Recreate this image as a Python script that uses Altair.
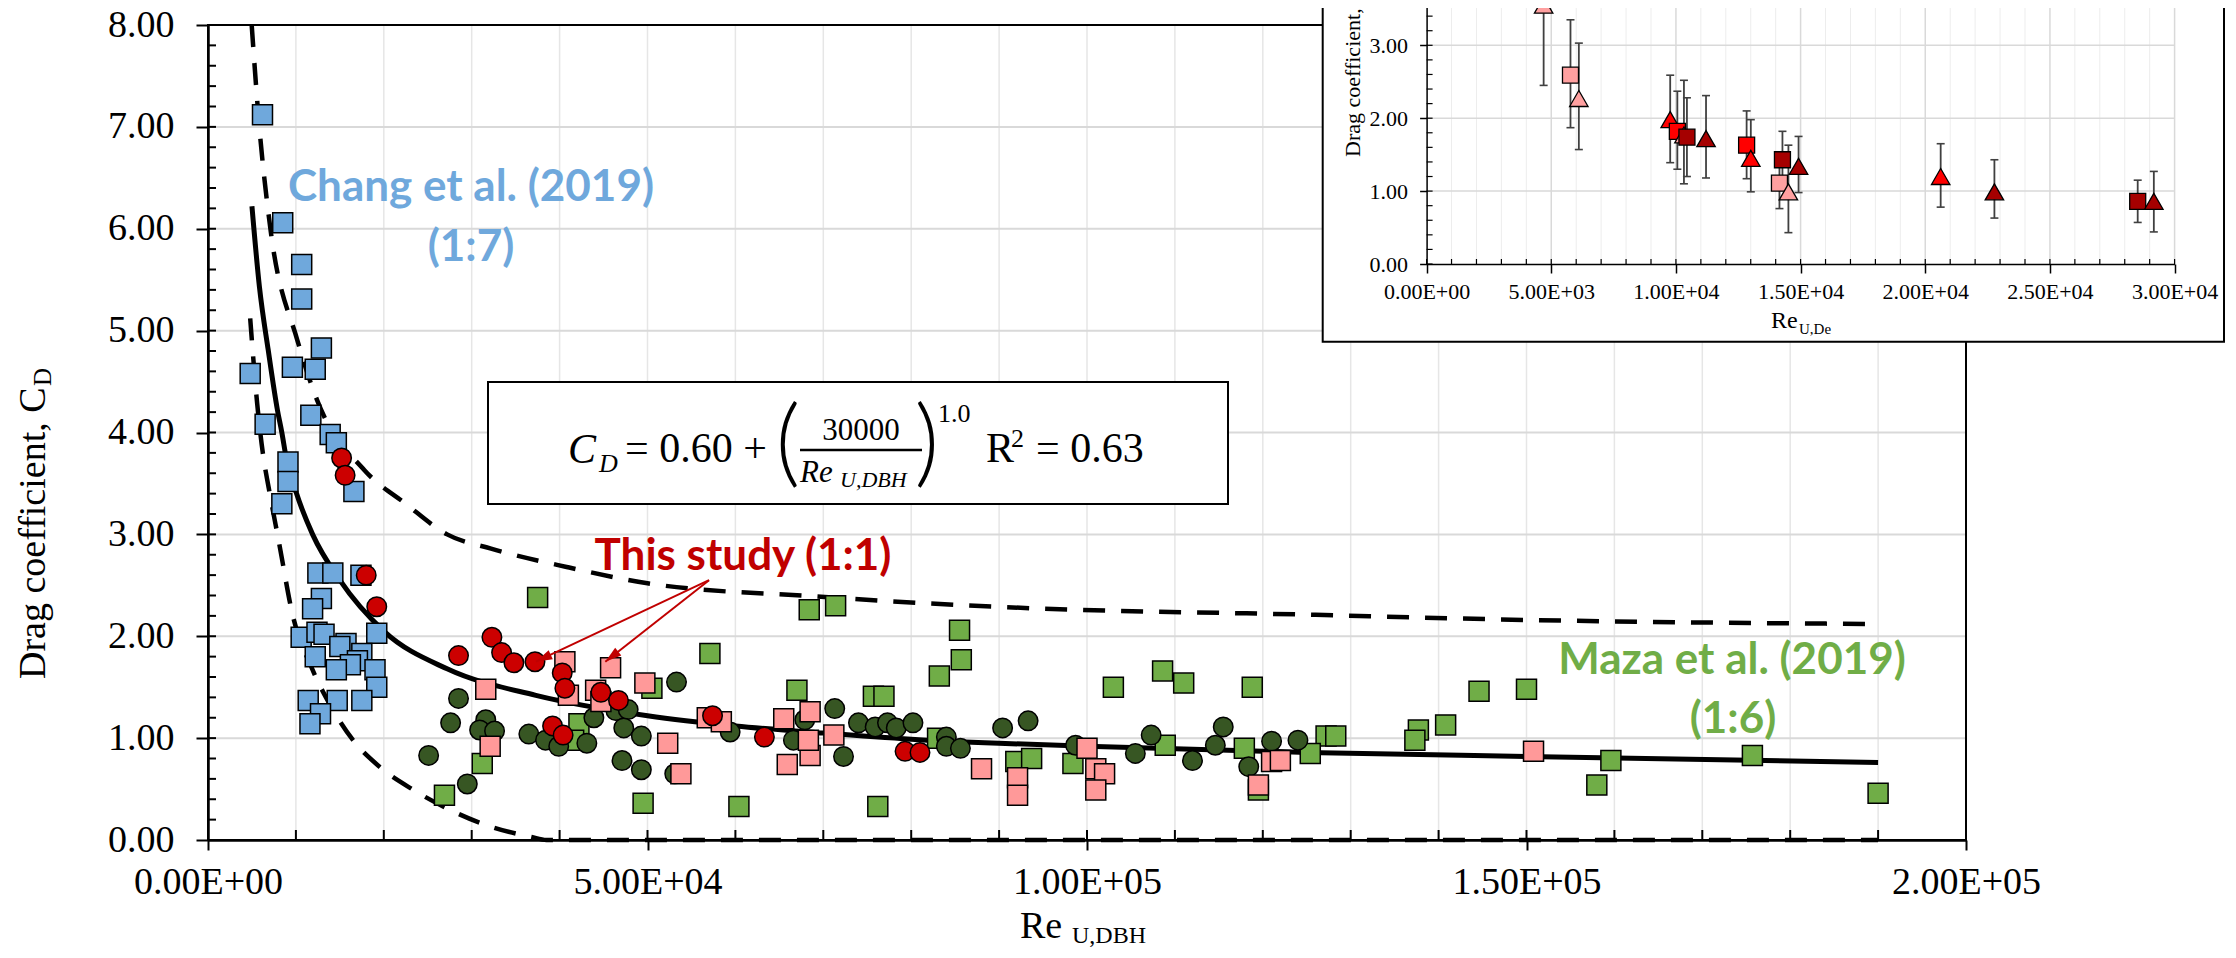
import math
import altair as alt
import pandas as pd

# ---------------- values ----------------
# Chang et al. (2019), 1:7  (blue squares)
chang_re = [6200, 8500, 10660, 10660, 12900, 4800, 9600, 12200, 11700, 6500,
            13900, 14600, 9100, 9100, 8400, 16600,
            12500, 14200, 17400, 12900, 11900, 19200, 10600, 12400, 13200,
            15700, 15000, 12200, 17500, 17000, 16200, 14600, 19000, 19200,
            11400, 14700, 17500, 12800, 11600]
chang_cd = [7.12, 6.06, 5.65, 5.31, 4.83, 4.58, 4.64, 4.62, 4.17, 4.08,
            3.98, 3.90, 3.71, 3.52, 3.30, 3.42,
            2.62, 2.62, 2.60, 2.37, 2.27, 2.03, 1.99, 2.04, 2.02,
            1.93, 1.90, 1.80, 1.83, 1.76, 1.72, 1.67, 1.67, 1.50,
            1.37, 1.37, 1.37, 1.24, 1.14]

# This study (1:1) - red circles
red_re = [15200, 15600, 18000, 19200, 28500, 32300, 33400, 34800, 37200, 40300,
          40600, 44700, 46700, 39200, 40400, 57400, 63300, 79300, 81000]
red_cd = [3.75, 3.58, 2.60, 2.29, 1.81, 1.99, 1.84, 1.74, 1.75, 1.64,
          1.49, 1.45, 1.37, 1.12, 1.03, 1.22, 1.01, 0.87, 0.86]

# pink squares
pink_re = [31600, 32100, 40600, 41000, 44100, 45800, 49700, 52300, 53800, 44700,
           56800, 58400, 65500, 68500, 68500, 68300, 71200, 65900, 88000, 92100,
           92100, 100000, 101000, 102000, 101000, 119500, 121000, 122000, 150800]
pink_cd = [1.48, 0.92, 1.75, 1.42, 1.47, 1.69, 1.54, 0.95, 0.65, 1.36,
           1.20, 1.16, 1.19, 1.26, 0.83, 0.98, 1.03, 0.74, 0.70, 0.61,
           0.44, 0.90, 0.70, 0.65, 0.49, 0.54, 0.77, 0.78, 0.87]

# Maza et al. (2019), 1:6 - green squares
maza_re = [37500, 26900, 31200, 42200, 41600, 49500, 50500, 68400, 71400, 57100,
           85500, 85700, 83200, 67000, 75700, 76900, 60400, 76200, 103000, 108600,
           111000, 118800, 83000, 91900, 93700, 98400, 108900, 117900, 119500, 144600,
           150000, 140800, 137700, 137300, 127200, 128300, 125400, 159600, 158000, 175700,
           190000]
maza_cd = [2.38, 0.44, 0.75, 1.14, 0.98, 0.36, 1.49, 2.26, 2.30, 1.83,
           2.06, 1.77, 1.61, 1.47, 1.41, 1.41, 0.33, 0.33, 1.50, 1.66,
           1.54, 1.50, 1.00, 0.77, 0.80, 0.75, 0.93, 0.90, 0.49, 1.46,
           1.48, 1.13, 1.08, 0.98, 1.02, 1.02, 0.85, 0.78, 0.54, 0.83,
           0.46]

# dark green circles
dark_re = [25100, 28500, 27600, 29500, 31600, 30900, 32600, 36500, 38400, 39900,
           43100, 43900, 46400, 47800, 47300, 47100, 49300, 49300, 53300, 53100,
           59400, 67900, 66600, 71300, 72300, 74000, 75900, 77300, 78300, 80200,
           84000, 84000, 85600, 90400, 93300, 98700, 105500, 107300, 112000, 114600,
           115500, 118400, 121000, 124000]
dark_cd = [0.83, 1.39, 1.15, 0.55, 1.18, 1.08, 1.07, 1.04, 0.98, 0.92,
           0.95, 1.20, 1.27, 1.28, 1.10, 0.78, 1.02, 0.69, 1.55, 0.65,
           1.06, 1.18, 0.98, 1.29, 0.82, 1.15, 1.11, 1.15, 1.10, 1.15,
           1.01, 0.92, 0.90, 1.10, 1.17, 0.93, 0.85, 1.03, 0.78, 0.93,
           1.11, 0.72, 0.97, 0.98]

# curves
fit_re = [5000, 5850, 6850, 7900, 8400, 8900, 10000, 11900, 15000, 20000, 27200,
          37300, 50000, 60000, 70000, 80000, 90000, 100000, 125000, 150000, 190000]
fit_cd = [6.22, 5.43, 4.81, 4.22, 4.00, 3.75, 3.42, 3.00, 2.55, 2.05, 1.68,
          1.42, 1.22, 1.12, 1.05, 0.99, 0.95, 0.92, 0.86, 0.82, 0.76]
upper_re = [4970, 5840, 7100, 10150, 12400, 17800, 22500, 27200, 32200, 40800,
            50000, 69200, 89500, 126000, 150000, 190000]
upper_cd = [8.00, 7.00, 6.00, 4.91, 4.32, 3.63, 3.30, 3.00, 2.86, 2.68,
            2.52, 2.39, 2.29, 2.21, 2.16, 2.12]
lower_re = [4800, 5600, 6300, 6900, 8100, 9600, 11900, 14000, 16500, 19500,
            23400, 27200, 32200, 36800, 38500, 60000, 100000, 150000, 190000]
lower_cd = [5.12, 4.28, 3.76, 3.46, 2.91, 2.22, 1.67, 1.31, 0.98, 0.72,
            0.49, 0.31, 0.13, 0.03, 0.0, 0.0, 0.0, 0.0, 0.0]

# arrows of the "This study" label
arrow_from_re, arrow_from_cd = 57000, 2.55
arrow_to_re = [37300, 45200]
arrow_to_cd = [1.75, 1.75]

# inset (Re U,De)
ins_re = [4694, 5771, 6106, 9770, 10057, 10321, 10441, 11207, 12835, 13003,
          14272, 14152, 14511, 14918, 20618, 22773, 28520, 29167]
ins_cd = [3.55, 2.59, 2.27, 1.98, 1.82, 1.77, 1.74, 1.72, 1.63, 1.45,
          1.43, 1.11, 0.99, 1.34, 1.20, 0.99, 0.86, 0.86]
ins_lo = [2.45, 1.87, 1.57, 1.39, 1.30, 1.10, 1.20, 1.18, 1.17, 0.99,
          1.05, 0.76, 0.43, 0.98, 0.78, 0.63, 0.57, 0.44]
ins_hi = [4.70, 3.35, 3.03, 2.59, 2.37, 2.52, 2.28, 2.31, 2.10, 1.98,
          1.82, 1.45, 1.63, 1.75, 1.65, 1.43, 1.15, 1.27]
ins_shape = ['tri', 'sq', 'tri', 'tri', 'sq', 'tri', 'sq', 'tri', 'sq', 'tri',
             'sq', 'sq', 'tri', 'tri', 'tri', 'tri', 'sq', 'tri']
ins_group = ['pink', 'pink', 'pink', 'red', 'red', 'pink', 'dark', 'dark', 'red', 'red',
             'dark', 'pink', 'pink', 'dark', 'red', 'dark', 'dark', 'dark']

# tick positions
main_x_major = [0, 50000, 100000, 150000, 200000]
main_x_minor = [i * 10000 for i in range(0, 21)]
main_y_major = [0, 1, 2, 3, 4, 5, 6, 7, 8]
main_y_minor = [round(i * 0.2, 1) for i in range(0, 41)]
ins_x_major = [0, 5000, 10000, 15000, 20000, 25000, 30000]
ins_x_minor = [i * 1000 for i in range(0, 31)]
ins_y_major = [0, 1, 2, 3]
ins_y_grid = [1, 2, 3, 4]
ins_y_minor = [round(i * 0.2, 1) for i in range(0, 21)]

# texts
T_CHANG, T_CHANG2 = "Chang et al. (2019)", "(1:7)"
T_THIS = "This study (1:1)"
T_MAZA, T_MAZA2 = "Maza et al. (2019)", "(1:6)"
T_YTITLE, T_YSUB = "Drag coefficient, C", "D"
T_XTITLE, T_XSUB = "Re", "U,DBH"
T_IXSUB = "U,De"

# ---------------- layout / style ----------------
W, H = 1758, 815
SERIF = "Liberation Serif"
SANS = "Lato"
C_BLUE, C_GREEN, C_DARK = "#6FA8DC", "#70AD47", "#375623"
C_PINK, C_RED, C_TEXTRED = "#FF9999", "#CC0000", "#C00000"

XS = alt.Scale(domain=[0, 200000])
YS = alt.Scale(domain=[0, 8])
IX0, IX1, IY0, IY1 = 1218.6, 1966.6, 239.0, -52.6
IXS = alt.Scale(domain=[0, 30000], range=[IX0, IX1])
IYS = alt.Scale(domain=[0, 4], range=[IY0, IY1])
EXPR = "replace(format(datum.value, '.2e'), 'e+', 'E+0')"

x_axis = alt.Axis(values=main_x_major, labelExpr=EXPR, labelFont=SERIF,
                  labelFontSize=38, labelColor="black", labelPadding=13,
                  labelFlush=False, labelOverlap=False, tickSize=10, tickWidth=2,
                  tickColor="black", domainColor="black", domainWidth=2.5,
                  grid=False, title=None, zindex=1)
y_axis = alt.Axis(values=main_y_major, format=".2f", labelFont=SERIF,
                  labelFontSize=38, labelColor="black", labelPadding=22,
                  labelOverlap=False, tickSize=12, tickWidth=2, tickColor="black",
                  domainColor="black", domainWidth=2.5, grid=False, title=None,
                  zindex=1)
ix_axis = alt.Axis(values=ins_x_major, labelExpr=EXPR, labelFont=SERIF, labelFontSize=22,
                   labelColor="black", labelPadding=8, labelFlush=False, labelOverlap=False,
                   tickSize=9, tickWidth=1.5, tickColor="black", domainColor="black",
                   domainWidth=1.5, grid=False, title=None, orient="bottom",
                   offset=IY0 - H, zindex=2)
iy_axis = alt.Axis(values=ins_y_major, format=".2f", labelFont=SERIF, labelFontSize=22,
                   labelColor="black", labelPadding=12, labelOverlap=False, tickSize=7,
                   tickWidth=1.5, tickColor="black", domainColor="black", domainWidth=1.5,
                   grid=False, title=None, orient="left", offset=-IX0, zindex=2)


def one(s="."):
    return pd.DataFrame({"t": [s]})


def vtext(s, x, y, **mk):
    return alt.Chart(one(s)).mark_text(**mk).encode(
        x=alt.value(x), y=alt.value(y), text="t:N")


def mx(field):
    return alt.X(field, type="quantitative", scale=XS, axis=x_axis)


def my(field):
    return alt.Y(field, type="quantitative", scale=YS, axis=y_axis)


def ix(field):
    return alt.X(field, type="quantitative", scale=IXS, axis=ix_axis)


def iy(field):
    return alt.Y(field, type="quantitative", scale=IYS, axis=iy_axis)


main = []
# grid lines
main.append(alt.Chart(pd.DataFrame({"x": main_x_minor[1:-1]})).mark_rule(
    color="#E6E6E6", strokeWidth=1.5).encode(
    x=mx("x:Q"), y=alt.value(0), y2=alt.value(H)))
main.append(alt.Chart(pd.DataFrame({"y": main_y_major[1:-1]})).mark_rule(
    color="#D9D9D9", strokeWidth=2).encode(
    y=my("y:Q"), x=alt.value(0), x2=alt.value(W)))
# frame
main.append(alt.Chart(one()).mark_rect(fillOpacity=0, stroke="black", strokeWidth=2).encode(
    x=alt.value(0), x2=alt.value(W), y=alt.value(0), y2=alt.value(H)))
# inner ticks
main.append(alt.Chart(pd.DataFrame({"x": main_x_minor})).mark_rule(
    color="black", strokeWidth=2).encode(x=mx("x:Q"), y=alt.value(H), y2=alt.value(H - 10)))
main.append(alt.Chart(pd.DataFrame({"y": main_y_minor})).mark_rule(
    color="black", strokeWidth=2).encode(y=my("y:Q"), x=alt.value(0), x2=alt.value(8)))
# equation box
main.append(alt.Chart(one()).mark_rect(fill="white", stroke="black", strokeWidth=2).encode(
    x=alt.value(280), x2=alt.value(1020), y=alt.value(357), y2=alt.value(479)))

# curves
for re_, cd_, dash, sw in [(upper_re, upper_cd, True, 4.5), (lower_re, lower_cd, True, 4.5),
                           (fit_re, fit_cd, False, 5)]:
    mk = dict(color="black", strokeWidth=sw, interpolate="monotone")
    if dash:
        mk["strokeDash"] = [22, 16]
    main.append(alt.Chart(pd.DataFrame({"re": re_, "cd": cd_})).mark_line(**mk).encode(
        x=mx("re:Q"), y=my("cd:Q")))


def pts(re_, cd_, shape, color, size):
    return alt.Chart(pd.DataFrame({"re": re_, "cd": cd_})).mark_point(
        shape=shape, filled=True, fill=color, stroke="black", strokeWidth=1.5,
        size=size, opacity=1).encode(x=mx("re:Q"), y=my("cd:Q"))


main.append(pts(maza_re, maza_cd, "square", C_GREEN, 400))
main.append(pts(dark_re, dark_cd, "circle", C_DARK, 380))
main.append(pts(pink_re, pink_cd, "square", C_PINK, 400))
main.append(pts(chang_re, chang_cd, "square", C_BLUE, 400))
main.append(pts(red_re, red_cd, "circle", C_RED, 380))

# arrows
pxx, pxy = W / 200000.0, H / 8.0
arr = pd.DataFrame({
    "x0": [arrow_from_re] * 2, "y0": [arrow_from_cd] * 2,
    "x1": arrow_to_re, "y1": arrow_to_cd,
})
arr["ang"] = [
    math.degrees(math.atan2((x1 - arrow_from_re) * pxx, (y1 - arrow_from_cd) * pxy)) % 360
    for x1, y1 in zip(arrow_to_re, arrow_to_cd)
]
main.append(alt.Chart(arr).mark_rule(color=C_TEXTRED, strokeWidth=2).encode(
    x=mx("x0:Q"), y=my("y0:Q"), x2="x1:Q", y2="y1:Q"))
main.append(alt.Chart(arr).mark_point(
    shape="M0,0 L0.45,1.5 L-0.45,1.5 Z", filled=True, fill=C_TEXTRED,
    strokeWidth=0, size=480, opacity=1).encode(
    x=mx("x1:Q"), y=my("y1:Q"), angle=alt.Angle("ang:Q", scale=None)))

# labels
lab = dict(font=SANS, fontWeight="bold", fontSize=44, align="center", baseline="middle")
main.append(vtext(T_CHANG, 263, 163, color=C_BLUE, **lab))
main.append(vtext(T_CHANG2, 263, 223, color=C_BLUE, **lab))
main.append(vtext(T_THIS, 535, 532, color=C_TEXTRED, **lab))
main.append(vtext(T_MAZA, 1524, 636, color=C_GREEN, **lab))
main.append(vtext(T_MAZA2, 1525, 695, color=C_GREEN, **lab))

# equation
eq = dict(font=SERIF, color="black", baseline="alphabetic", align="left")
main.append(vtext("C", 360, 438, fontSize=42, fontStyle="italic", **eq))
main.append(vtext("D", 391, 447, fontSize=26, fontStyle="italic", **eq))
main.append(vtext("= 0.60 +", 417, 437, fontSize=42, **eq))
main.append(vtext("(", 580, 421, fontSize=96, font=SANS, fontWeight=300,
                  align="center", baseline="middle"))
main.append(vtext(")", 719, 421, fontSize=96, font=SANS, fontWeight=300,
                  align="center", baseline="middle"))
main.append(vtext("30000", 653, 415, fontSize=31, font=SERIF, align="center",
                  baseline="alphabetic"))
main.append(alt.Chart(one()).mark_rule(color="black", strokeWidth=2.5).encode(
    x=alt.value(592), x2=alt.value(714), y=alt.value(425)))
main.append(vtext("Re", 592, 457, fontSize=31, fontStyle="italic", **eq))
main.append(vtext("U,DBH", 632, 462, fontSize=22, fontStyle="italic", **eq))
main.append(vtext("1.0", 730, 397, fontSize=26, **eq))
main.append(vtext("R", 778, 437, fontSize=42, **eq))
main.append(vtext("2", 803, 422, fontSize=26, **eq))
main.append(vtext("= 0.63", 828, 437, fontSize=42, **eq))

# axis titles
main.append(vtext(T_YTITLE, -163, 654, font=SERIF, fontSize=38, angle=270,
                  align="left", baseline="alphabetic", color="black"))
main.append(vtext(T_YSUB, -157, 361, font=SERIF, fontSize=25, angle=270,
                  align="left", baseline="alphabetic", color="black"))
main.append(vtext(T_XTITLE, 812, 913, font=SERIF, fontSize=38, align="left",
                  baseline="alphabetic", color="black"))
main.append(vtext(T_XSUB, 864, 918, font=SERIF, fontSize=24, align="left",
                  baseline="alphabetic", color="black"))

main_layer = alt.layer(*main)

# ---------------- inset ----------------
ins = []
ins.append(alt.Chart(one()).mark_rect(fill="white", stroke="black", strokeWidth=2).encode(
    x=alt.value(1114.7), x2=alt.value(2016), y=alt.value(-60), y2=alt.value(316.7)))
ins.append(alt.Chart(pd.DataFrame({"x": [v for v in ins_x_minor if v % 5000]})).mark_rule(
    color="#EDEDED", strokeWidth=1).encode(x=ix("x:Q"), y=alt.value(IY0), y2=alt.value(-60)))
ins.append(alt.Chart(pd.DataFrame({"x": ins_x_major[1:]})).mark_rule(
    color="#D9D9D9", strokeWidth=1.5).encode(x=ix("x:Q"), y=alt.value(IY0),
                                             y2=alt.value(-60)))
ins.append(alt.Chart(pd.DataFrame({"y": ins_y_grid})).mark_rule(
    color="#D9D9D9", strokeWidth=1.5).encode(y=iy("y:Q"), x=alt.value(IX0),
                                             x2=alt.value(IX1)))
ins.append(alt.Chart(pd.DataFrame({"x": ins_x_minor})).mark_rule(
    color="black", strokeWidth=1.2).encode(x=ix("x:Q"), y=alt.value(IY0), y2=alt.value(IY0 - 5)))
ins.append(alt.Chart(pd.DataFrame({"y": ins_y_minor})).mark_rule(
    color="black", strokeWidth=1.2).encode(y=iy("y:Q"), x=alt.value(IX0), x2=alt.value(IX0 + 6)))

idf = pd.DataFrame({"re": ins_re, "cd": ins_cd, "lo": ins_lo, "hi": ins_hi,
                    "shape": ins_shape, "grp": ins_group})
ins.append(alt.Chart(idf).mark_rule(color="#404040", strokeWidth=1.8).encode(
    x=ix("re:Q"), y=iy("lo:Q"), y2="hi:Q"))
ins.append(alt.Chart(idf).mark_tick(orient="horizontal", size=8, thickness=1.6,
                                    color="#404040", opacity=1).encode(x=ix("re:Q"), y=iy("lo:Q")))
ins.append(alt.Chart(idf).mark_tick(orient="horizontal", size=8, thickness=1.6,
                                    color="#404040", opacity=1).encode(x=ix("re:Q"), y=iy("hi:Q")))
ins.append(alt.Chart(idf).mark_point(filled=True, stroke="black", strokeWidth=1.3, opacity=1).encode(
    x=ix("re:Q"), y=iy("cd:Q"),
    shape=alt.Shape("shape:N", scale=alt.Scale(domain=["sq", "tri"],
                                                range=["square", "triangle-up"]), legend=None),
    size=alt.Size("shape:N", scale=alt.Scale(domain=["sq", "tri"], range=[256, 340]), legend=None),
    fill=alt.Fill("grp:N", scale=alt.Scale(domain=["pink", "red", "dark"],
                                            range=["#FFA0A0", "#FF0000", "#A50000"]), legend=None)))
ins.append(vtext(T_XTITLE, 1563, 303, font=SERIF, fontSize=24, align="left",
                 baseline="alphabetic", color="black"))
ins.append(vtext(T_IXSUB, 1591, 309, font=SERIF, fontSize=15, align="left",
                 baseline="alphabetic", color="black"))
ins.append(vtext(T_YTITLE, 1152, 132, font=SERIF, fontSize=22, angle=270,
                 align="left", baseline="alphabetic", color="black"))

inset_layer = alt.layer(*ins)

chart = alt.layer(main_layer, inset_layer).resolve_scale(
    x="independent", y="independent"
).properties(
    width=W, height=H,
    autosize=alt.AutoSizeParams(type="none"),
    padding={"left": 200, "top": 17, "right": 260, "bottom": 110},
    background="white",
).configure_view(strokeWidth=0)

chart.save("out.html", embed_options={"renderer": "svg", "actions": False})
